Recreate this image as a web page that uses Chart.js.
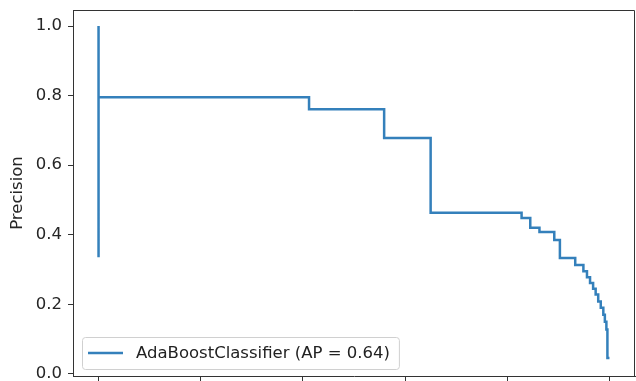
<!DOCTYPE html>
<html>
<head>
<meta charset="utf-8">
<script src="https://cdn.jsdelivr.net/npm/chart.js@4/dist/chart.umd.min.js"></script>
<style>
  body { margin: 0; background: #fff; }
  #wrap { width: 636px; height: 381px; }
</style>
</head>
<body>
<div id="wrap"><canvas id="prChart" width="636" height="381"></canvas></div>
<script>
// DATA
const recall = [0, 0, 0.412, 0.559, 0.650, 0.828, 0.845, 0.863, 0.892, 0.903, 0.933, 0.949,
    0.956, 0.962, 0.968, 0.973, 0.978, 0.983, 0.988, 0.991, 0.994, 0.996, 1.0];
const precision = [1.0, 0.335, 0.795, 0.761, 0.678, 0.463, 0.448, 0.420, 0.408, 0.385, 0.333, 0.313,
    0.295, 0.278, 0.261, 0.245, 0.228, 0.208, 0.190, 0.170, 0.150, 0.128, 0.046];
const xTicks = [0, 0.2, 0.4, 0.6, 0.8, 1.0];
const yTicks = [0, 0.2, 0.4, 0.6, 0.8, 1.0];
const seriesLabel = 'AdaBoostClassifier (AP = 0.64)';

const FONT = 'DejaVu Sans';
const FONT_SIZE = 16.5;
const LINE = '#3480bb';
const AXIS = '#333333';

// cadre complet (haut + droite) comme matplotlib
const spines = {
    id: 'spines',
    afterDraw(chart) {
        const { ctx, chartArea: a } = chart;
        ctx.save();
        ctx.strokeStyle = AXIS;
        ctx.lineWidth = 1;
        ctx.beginPath();
        ctx.moveTo(a.left, a.top + 0.5);
        ctx.lineTo(a.right - 0.5, a.top + 0.5);
        ctx.lineTo(a.right - 0.5, a.bottom);
        ctx.stroke();
        ctx.restore();
    }
};

// légende dans la zone du graphique, en bas à gauche
const innerLegend = {
    id: 'innerLegend',
    afterDatasetsDraw(chart) {
        const { ctx, chartArea: a } = chart;
        const ds = chart.data.datasets[0];
        ctx.save();
        ctx.font = FONT_SIZE + 'px "' + FONT + '"';
        const tw = ctx.measureText(ds.label).width;
        const x = a.left + 9, h = 32, w = tw + 63;
        const y = a.bottom - 7 - h;
        ctx.fillStyle = 'rgba(255,255,255,0.8)';
        ctx.strokeStyle = '#d0d0d0';
        ctx.lineWidth = 1;
        ctx.beginPath();
        ctx.roundRect(x + 0.5, y + 0.5, w, h, 3);
        ctx.fill();
        ctx.stroke();
        ctx.strokeStyle = ds.borderColor;
        ctx.lineWidth = ds.borderWidth;
        ctx.beginPath();
        ctx.moveTo(x + 6, y + h / 2);
        ctx.lineTo(x + 41, y + h / 2);
        ctx.stroke();
        ctx.fillStyle = '#222';
        ctx.textBaseline = 'middle';
        ctx.fillText(ds.label, x + 54, y + h / 2 + 1);
        ctx.restore();
    }
};

const prChart = new Chart(
    document.getElementById('prChart'),
    {
        type: 'line',
        data: {
            datasets: [{
                label: seriesLabel,
                data: recall.map((r, i) => ({ x: r, y: precision[i] })),
                borderColor: LINE,
                borderWidth: 2.5,
                pointRadius: 0,
                stepped: 'after',
                fill: false
            }]
        },
        options: {
            responsive: false,
            animation: false,
            devicePixelRatio: 1,
            layout: { padding: { top: 10, right: 1, left: 0, bottom: 0 } },
            plugins: {
                legend: { display: false },
                tooltip: { enabled: false }
            },
            scales: {
                x: {
                    type: 'linear',
                    min: -0.05,
                    max: 1.05,
                    afterBuildTicks: s => { s.ticks = xTicks.map(v => ({ value: v })); },
                    afterFit: s => { s.height = 5; s.paddingLeft = 0; s.paddingRight = 0; },
                    ticks: { display: false },
                    grid: { drawOnChartArea: false, drawTicks: true, tickLength: 5, color: AXIS },
                    border: { display: true, color: AXIS, width: 1 }
                },
                y: {
                    min: -0.006,
                    max: 1.046,
                    afterBuildTicks: s => { s.ticks = yTicks.map(v => ({ value: v })); },
                    afterFit: s => { s.width = 73; s.paddingTop = 0; s.paddingBottom = 0; },
                    ticks: {
                        callback: v => v.toFixed(1),
                        color: '#262626',
                        padding: 6,
                        font: { family: FONT, size: FONT_SIZE }
                    },
                    grid: { drawOnChartArea: false, drawTicks: true, tickLength: 5, color: AXIS },
                    border: { display: true, color: AXIS, width: 1 },
                    title: {
                        display: true,
                        text: 'Precision',
                        color: '#262626',
                        padding: { top: 8, bottom: 0 },
                        font: { family: FONT, size: FONT_SIZE }
                    }
                }
            }
        },
        plugins: [spines, innerLegend]
    }
);
</script>
</body>
</html>
